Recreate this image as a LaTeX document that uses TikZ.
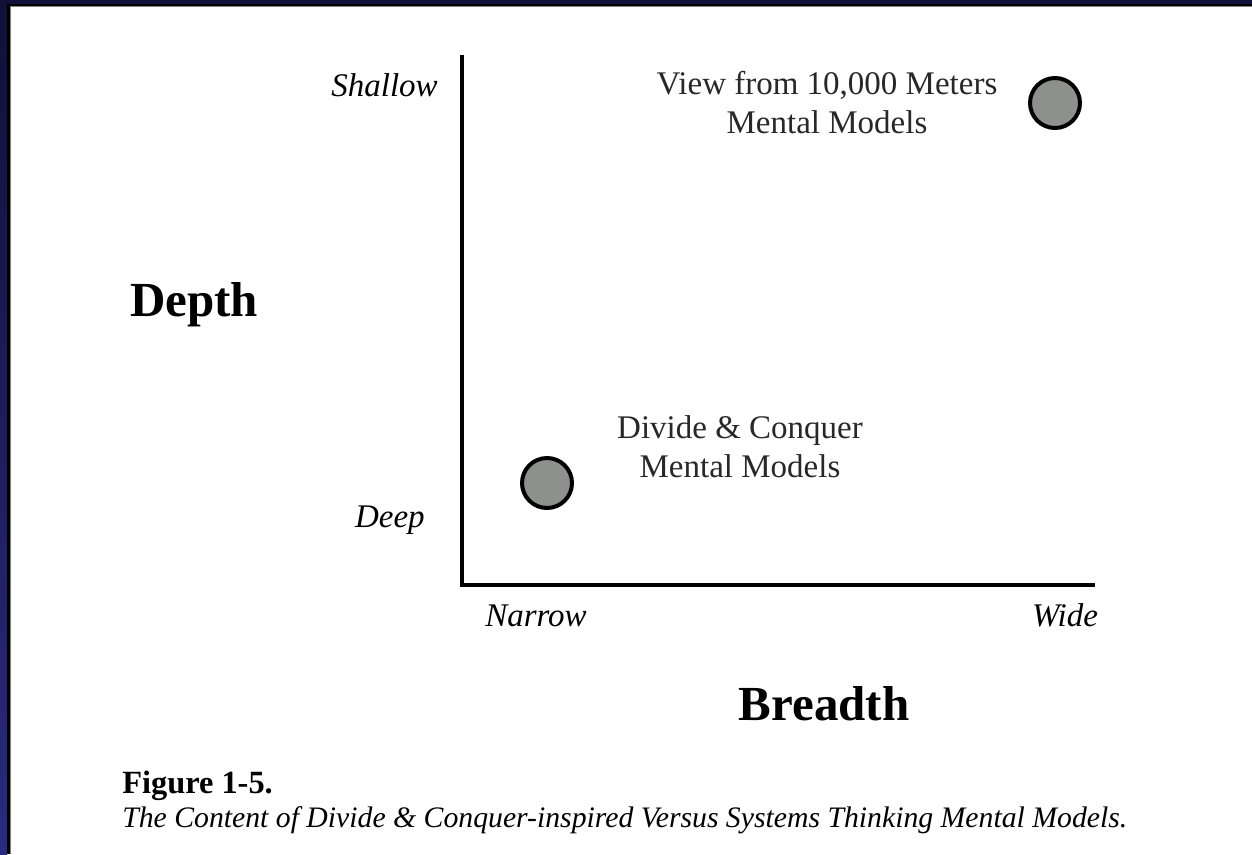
\documentclass[tikz,border=0pt]{standalone}
\usepackage{fontspec}
\setmainfont{Liberation Serif}
\definecolor{navytop}{RGB}{16,16,56}
\definecolor{navybot}{RGB}{42,42,128}
\definecolor{dotgray}{RGB}{142,144,141}
\definecolor{labelgray}{RGB}{40,40,40}
\begin{document}
\begin{tikzpicture}[x=0.75pt,y=-0.75pt,
  lbl/.style={inner sep=0pt, anchor=base, align=center, text=labelgray,
    font=\fontsize{24.75}{29.25}\selectfont},
  axlbl/.style={inner sep=0pt, font=\fontsize{24.75}{29.25}\selectfont\itshape},
  biglbl/.style={inner sep=0pt, anchor=base, font=\fontsize{36.75}{44}\selectfont\bfseries},
  dot/.style={circle, draw=black, fill=dotgray, line width=3pt, inner sep=0pt, minimum size=37.5pt},
  axis/.style={line width=3pt, line join=miter}]
\useasboundingbox (0,0) rectangle (1252,854);
\fill[white] (0,0) rectangle (1252,854);
% frame (top and left)
\shade[top color=navytop, bottom color=navybot] (0,0) rectangle (7,854);
\fill[navytop] (0,0) rectangle (1252,4);
\fill[black] (7,4) rectangle (10,854);
\fill[black] (7,4) rectangle (1252,6);
\fill[gray] (10,6) rectangle (11,854);
\fill[gray] (10,6) rectangle (1252,7);
% axes
\coordinate (ytop) at (462,55);
\coordinate (yorig) at (462,585);
\coordinate (xend) at (1095,585);
\draw[axis] (ytop) |- (xend);
% axis labels
\node[axlbl, anchor=base east] (shallow) at (438,96) {Shallow};
\node[axlbl, anchor=base east] (deep) at (425,527) {Deep};
\node[axlbl, anchor=base] (narrow) at (536,626) {Narrow};
\node[axlbl, anchor=base] (wide) at (1065,626) {Wide};
\node[biglbl] (depth) at (194,316) {Depth};
\node[biglbl] (breadth) at (824,720) {Breadth};
% points
\node[dot] (wideshallow) at (1055,103) {};
\node[dot] (narrowdeep) at (547,483) {};
\node[lbl] (viewlbl) at (827,133) {View from 10,000 Meters\\Mental Models};
\node[lbl] (dclbl) at (740,477) {Divide \& Conquer\\Mental Models};
% caption
\node[inner sep=0pt, anchor=base west, font=\fontsize{24.3}{29}\selectfont\bfseries] (fig) at (122,793) {Figure 1-5.};
\node[inner sep=0pt, anchor=base west, font=\fontsize{22.3}{27}\selectfont\itshape] (cap) at (122,827) {The Content of Divide \& Conquer-inspired Versus Systems Thinking Mental Models.};
\end{tikzpicture}
\end{document}
